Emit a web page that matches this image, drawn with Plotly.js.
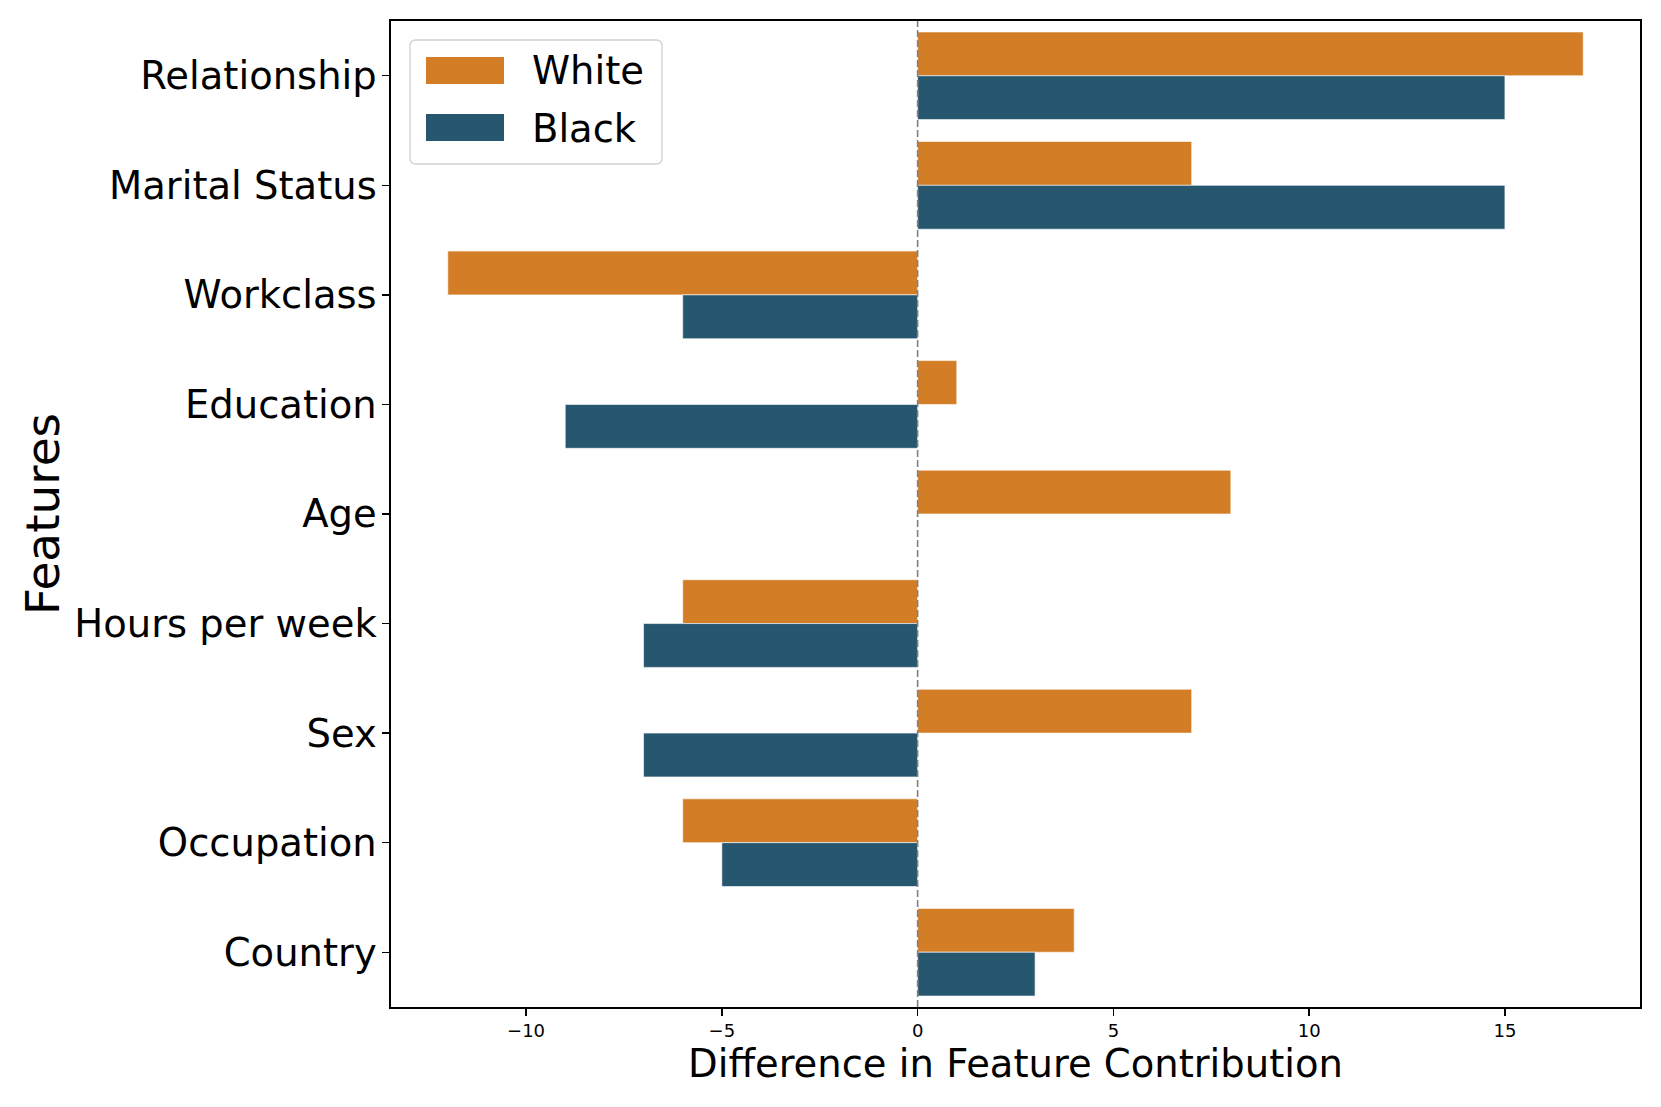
<!DOCTYPE html>
<html>
<head>
<meta charset="utf-8">
<script src="https://cdn.plot.ly/plotly-3.0.1.min.js"></script>
<style>
  html, body { margin: 0; padding: 0; background: #fff; }
  #chart { width: 1661px; height: 1107px; }
</style>
</head>
<body>
<div id="chart"></div>
<script>
// ---- data ----
const features = ["Relationship", "Marital Status", "Workclass", "Education", "Age",
                  "Hours per week", "Sex", "Occupation", "Country"];
const whiteValues = [17, 7, -12, 1, 8, -6, 7, -6, 4];
const blackValues = [15, 15, -6, -9, 0, -7, -7, -5, 3];
const seriesNames = ["White", "Black"];
const xTickValues = [-10, -5, 0, 5, 10, 15];
const xTickLabels = ["\u221210", "\u22125", "0", "5", "10", "15"];

// ---- styles ----
const colors = ["#D37E26", "#27566F"];
const FONT = "DejaVu Sans, sans-serif";

const traces = [
  { type: "bar", orientation: "h", name: seriesNames[0], y: features, x: whiteValues,
    marker: { color: colors[0], line: { color: "#ffffff", width: 0.6 } }, showlegend: false },
  { type: "bar", orientation: "h", name: seriesNames[1], y: features, x: blackValues,
    marker: { color: colors[1], line: { color: "#ffffff", width: 0.6 } }, showlegend: false }
];

// plot area geometry (pixels) for legend placement
const L = 391, R = 21, T = 21, B = 100;
const W = 1661 - L - R, H = 1107 - T - B;
const px = x => (x - L) / W;
const py = y => 1 - (y - T) / H;

function roundRect(x0, y0, x1, y1, r) {
  const rx = r / W, ry = r / H;
  const a = px(x0), b = px(x1), top = py(y0), bot = py(y1);
  return `M ${a + rx},${top} L ${b - rx},${top} Q ${b},${top} ${b},${top - ry} ` +
         `L ${b},${bot + ry} Q ${b},${bot} ${b - rx},${bot} L ${a + rx},${bot} ` +
         `Q ${a},${bot} ${a},${bot + ry} L ${a},${top - ry} Q ${a},${top} ${a + rx},${top} Z`;
}

const shapes = [
  { type: "line", xref: "x", yref: "paper", x0: 0, x1: 0, y0: 0, y1: 1,
    line: { color: "#808080", width: 1.6, dash: "7px,3px" }, layer: "above" },
  { type: "path", xref: "paper", yref: "paper", path: roundRect(410, 40, 662, 164, 6),
    fillcolor: "rgba(255,255,255,0.8)", line: { color: "#d0d0d0", width: 1.3 }, layer: "above" },
  { type: "rect", xref: "paper", yref: "paper", x0: px(426), x1: px(504), y0: py(57), y1: py(84),
    fillcolor: colors[0], line: { width: 0 }, layer: "above" },
  { type: "rect", xref: "paper", yref: "paper", x0: px(426), x1: px(504), y0: py(114), y1: py(141),
    fillcolor: colors[1], line: { width: 0 }, layer: "above" }
];

const annotations = [
  { xref: "paper", yref: "paper", x: px(530), y: py(71), xanchor: "left", yanchor: "middle",
    text: seriesNames[0], showarrow: false, font: { family: FONT, size: 38.5, color: "#000" } },
  { xref: "paper", yref: "paper", x: px(530), y: py(128), xanchor: "left", yanchor: "middle",
    text: seriesNames[1], showarrow: false, font: { family: FONT, size: 38.5, color: "#000" } }
];

const layout = {
  width: 1661, height: 1107,
  margin: { l: L, r: R, t: T, b: B, pad: 0 },
  paper_bgcolor: "#fff", plot_bgcolor: "#fff",
  barmode: "group", bargap: 0.2, bargroupgap: 0,
  font: { family: FONT, color: "#000" },
  xaxis: {
    range: [-13.45, 18.45], tickvals: xTickValues, ticktext: xTickLabels,
    showgrid: false, zeroline: false, showline: true, mirror: true,
    linecolor: "#000", linewidth: 1.6, ticks: "outside", ticklen: 7, tickwidth: 1.4, tickcolor: "#000",
    tickfont: { family: FONT, size: 18, color: "#000" },
    title: { text: "Difference in Feature Contribution", font: { family: FONT, size: 38.5, color: "#000" }, standoff: 8 }
  },
  yaxis: {
    type: "category", categoryorder: "array", categoryarray: features,
    range: [8.5, -0.5],
    showgrid: false, zeroline: false, showline: true, mirror: true,
    linecolor: "#000", linewidth: 1.6, ticks: "outside", ticklen: 7, tickwidth: 1.4, tickcolor: "#000",
    ticklabelstandoff: -2,
    tickfont: { family: FONT, size: 38.5, color: "#000" },
    title: { text: "Features", font: { family: FONT, size: 47, color: "#000" }, standoff: 0 }
  },
  shapes: shapes,
  annotations: annotations
};

Plotly.newPlot("chart", traces, layout, { displayModeBar: false, staticPlot: true });
</script>
</body>
</html>
